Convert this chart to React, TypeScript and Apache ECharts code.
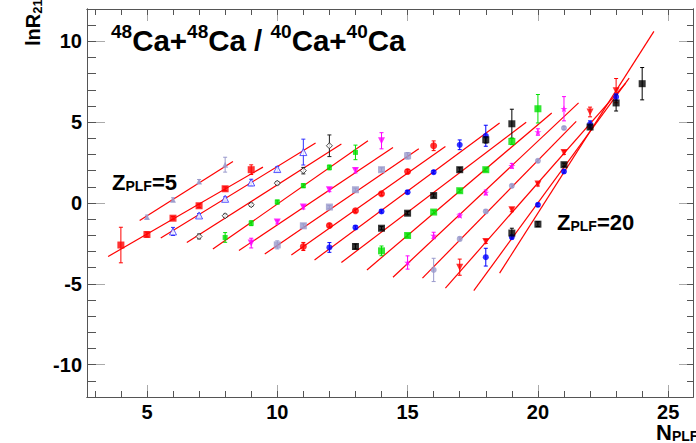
import React, { useEffect, useRef } from 'react';
import * as echarts from 'echarts';

// ---- axes ----
const X_MIN = 2.7;
const X_MAX = 25.95;
const Y_MIN = -12;
const Y_MAX = 12;
const X_MAJOR = [5, 10, 15, 20, 25];
const X_MINOR = [3, 4, 5, 6, 7, 8, 9, 10, 11, 12, 13, 14, 15, 16, 17, 18, 19, 20, 21, 22, 23, 24, 25];
const Y_MAJOR = [-10, -5, 0, 5, 10];
const Y_MINOR = [-12, -11, -10, -9, -8, -7, -6, -5, -4, -3, -2, -1, 0, 1, 2, 3, 4, 5, 6, 7, 8, 9, 10, 11, 12];

// ---- data: one isotope chain per Z_PLF ----
const Z_LIST = [5, 6, 7, 8, 9, 10, 11, 12, 13, 14, 15, 16, 17, 18, 19, 20];
const N_FIRST = [5, 4, 6, 7, 8, 9, 10, 11, 12, 13, 14, 15, 16, 17, 18, 19];

const LNR_Z5 = [-0.87, 0.2, 1.33, 2.37];
const LNR_Z6 = [-2.6, -1.95, -0.94, -0.17, 0.88, 2.06];
const LNR_Z7 = [-1.76, -0.77, 0.26, 1.27, 2.1, 3.15];
const LNR_Z8 = [-2.07, -0.79, -0.11, 1.23, 2.0, 3.54];
const LNR_Z9 = [-2.13, -1.25, 0.06, 1.07, 2.2, 3.13];
const LNR_Z10 = [-2.48, -1.18, -0.25, 0.82, 2.01, 3.85];
const LNR_Z11 = [-2.59, -1.41, -0.25, 0.82, 2.06, 2.92];
const LNR_Z12 = [-2.69, -1.39, -0.48, 0.57, 1.95, 3.54];
const LNR_Z13 = [-2.75, -1.51, -0.52, 0.67, 1.91, 3.6, 4.16];
const LNR_Z14 = [-2.69, -1.56, -0.63, 0.46, 2.06, 3.91, 4.9];
const LNR_Z15 = [-2.96, -2.01, -0.56, 0.76, 2.06, 3.81, 5.83];
const LNR_Z16 = [-3.68, -2.01, -0.77, 0.65, 2.3, 4.39, 5.83];
const LNR_Z17 = [-4.14, -2.22, -0.52, 1.06, 2.61, 4.64];
const LNR_Z18 = [-3.97, -2.38, -0.42, 1.17, 3.13, 5.63, 6.95];
const LNR_Z19 = [-3.35, -2.11, -0.11, 1.95, 4.88, 6.56];
const LNR_Z20 = [-1.86, -1.31, 2.37, 4.7, 6.19, 7.38];

const ERR_Z5 = [0.12, 0.12, 0.12, 0.46];
const ERR_Z6 = [1.1, 0.15, 0.1, 0.1, 0.12, 0.3];
const ERR_Z7 = [0.25, 0.12, 0.12, 0.2, 0.15, 0.8];
const ERR_Z8 = [0.15, 0.1, 0.1, 0.1, 0.2, 0.67];
const ERR_Z9 = [0.3, 0.15, 0.12, 0.12, 0.15, 0.45];
const ERR_Z10 = [0.3, 0.12, 0.12, 0.12, 0.15, 0.5];
const ERR_Z11 = [0.25, 0.12, 0.1, 0.1, 0.12, 0.2];
const ERR_Z12 = [0.25, 0.1, 0.1, 0.1, 0.12, 0.3];
const ERR_Z13 = [0.3, 0.1, 0.1, 0.1, 0.1, 0.3, 0.65];
const ERR_Z14 = [0.15, 0.1, 0.1, 0.1, 0.12, 0.2, 0.9];
const ERR_Z15 = [0.3, 0.1, 0.1, 0.1, 0.1, 0.2, 0.88];
const ERR_Z16 = [0.41, 0.2, 0.1, 0.15, 0.15, 0.2, 0.75];
const ERR_Z17 = [0.72, 0.12, 0.1, 0.1, 0.1, 0.1];
const ERR_Z18 = [0.5, 0.12, 0.12, 0.12, 0.12, 0.3, 0.75];
const ERR_Z19 = [0.55, 0.12, 0.1, 0.1, 0.2, 0.2];
const ERR_Z20 = [0.3, 0.15, 0.1, 0.12, 0.5, 1.0];

// fit line end points [N, lnR]
const FIT_Z5 = [[4.72, -1.08], [8.3, 2.57]];
const FIT_Z6 = [[3.51, -3.31], [9.45, 2.22]];
const FIT_Z7 = [[5.53, -2.17], [11.47, 3.71]];
const FIT_Z8 = [[6.53, -2.45], [12.46, 3.65]];
const FIT_Z9 = [[7.53, -2.85], [13.48, 3.85]];
const FIT_Z10 = [[8.53, -2.94], [14.44, 3.44]];
const FIT_Z11 = [[9.52, -3.15], [15.43, 3.35]];
const FIT_Z12 = [[10.54, -3.21], [16.45, 3.5]];
const FIT_Z13 = [[11.43, -3.52], [18.53, 4.95]];
const FIT_Z14 = [[12.46, -3.68], [19.55, 5.0]];
const FIT_Z15 = [[13.44, -4.14], [20.53, 5.57]];
const FIT_Z16 = [[14.44, -4.59], [21.56, 6.19]];
const FIT_Z17 = [[15.57, -4.65], [21.47, 5.05]];
const FIT_Z18 = [[16.45, -5.27], [23.37, 7.42]];
const FIT_Z19 = [[17.54, -5.42], [23.5, 7.73]];
const FIT_Z20 = [[18.53, -4.34], [24.45, 10.62]];

const LNR = [LNR_Z5, LNR_Z6, LNR_Z7, LNR_Z8, LNR_Z9, LNR_Z10, LNR_Z11, LNR_Z12, LNR_Z13, LNR_Z14, LNR_Z15, LNR_Z16, LNR_Z17, LNR_Z18, LNR_Z19, LNR_Z20];
const ERR = [ERR_Z5, ERR_Z6, ERR_Z7, ERR_Z8, ERR_Z9, ERR_Z10, ERR_Z11, ERR_Z12, ERR_Z13, ERR_Z14, ERR_Z15, ERR_Z16, ERR_Z17, ERR_Z18, ERR_Z19, ERR_Z20];
const FIT = [FIT_Z5, FIT_Z6, FIT_Z7, FIT_Z8, FIT_Z9, FIT_Z10, FIT_Z11, FIT_Z12, FIT_Z13, FIT_Z14, FIT_Z15, FIT_Z16, FIT_Z17, FIT_Z18, FIT_Z19, FIT_Z20];

// ---- styles ----
const FONT = '"Liberation Sans", Arial, Helvetica, sans-serif';
const GRAY = '#9a9acc';
const TRI_DOWN = 'path://M0,0L10,0L5,9Z';
const STAR = 'path://M5,0L6.2,3.8L10,3.8L7,6.2L8.1,10L5,7.7L1.9,10L3,6.2L0,3.8L3.8,3.8Z';
const MARKERS = [
  { color: GRAY, symbol: 'triangle', size: 6, hollow: false },
  { color: '#ff0000', symbol: 'rect', size: 7, hollow: false },
  { color: '#3030ff', symbol: 'triangle', size: 7, hollow: true },
  { color: '#202020', symbol: 'diamond', size: 6, hollow: true },
  { color: '#00e000', symbol: 'rect', size: 5, hollow: false },
  { color: '#ff00ff', symbol: TRI_DOWN, size: 7, hollow: false },
  { color: GRAY, symbol: 'rect', size: 7, hollow: false },
  { color: '#ff0000', symbol: 'circle', size: 7, hollow: false },
  { color: '#0000ff', symbol: 'circle', size: 6, hollow: false },
  { color: '#000000', symbol: 'rect', size: 7, hollow: false },
  { color: '#00e000', symbol: 'rect', size: 7, hollow: false },
  { color: '#ff00ff', symbol: STAR, size: 7, hollow: false },
  { color: GRAY, symbol: 'circle', size: 6, hollow: false },
  { color: '#ff0000', symbol: TRI_DOWN, size: 7, hollow: false },
  { color: '#0000ff', symbol: 'circle', size: 6, hollow: false },
  { color: '#000000', symbol: 'rect', size: 7, hollow: false },
];

function buildOption() {
  const lineSeries: any[] = [];
  const errSeries: any[] = [];
  const markSeries: any[] = [];
  Z_LIST.forEach((z, i) => {
    const pts = LNR[i].map((v, k) => [N_FIRST[i] + k, v, ERR[i][k]]);
    const m = MARKERS[i];
    lineSeries.push({
      name: 'fit Z=' + z,
      type: 'line',
      data: FIT[i],
      symbol: 'none',
      lineStyle: { color: '#ff0000', width: 1.2 },
      silent: true,
      z: 2,
    });
    errSeries.push({
      name: 'err Z=' + z,
      type: 'custom',
      data: pts,
      z: 3,
      silent: true,
      renderItem: (params: any, api: any) => {
        const x = api.value(0);
        const y = api.value(1);
        const e = api.value(2);
        const top = api.coord([x, y + e]);
        const bot = api.coord([x, y - e]);
        const cap = 2;
        const st = { stroke: m.color, lineWidth: 1 };
        return {
          type: 'group',
          children: [
            { type: 'line', shape: { x1: top[0], y1: top[1], x2: bot[0], y2: bot[1] }, style: st },
            { type: 'line', shape: { x1: top[0] - cap, y1: top[1], x2: top[0] + cap, y2: top[1] }, style: st },
            { type: 'line', shape: { x1: bot[0] - cap, y1: bot[1], x2: bot[0] + cap, y2: bot[1] }, style: st },
          ],
        };
      },
    });
    markSeries.push({
      name: 'Z=' + z,
      type: 'scatter',
      data: pts.map((p) => [p[0], p[1]]),
      symbol: m.symbol,
      symbolSize: m.size,
      z: 4,
      itemStyle: m.hollow
        ? { color: '#ffffff', borderColor: m.color, borderWidth: 1 }
        : { color: m.color },
    });
  });

  const axisLineStyle = { color: '#555555', width: 1 };
  const mkX = (pos: string, vals: number[], len: number, color: string, labels: boolean) => ({
    type: 'value',
    min: X_MIN,
    max: X_MAX,
    position: pos,
    axisLine: { show: true, onZero: false, lineStyle: axisLineStyle },
    axisTick: { show: true, inside: true, length: len, customValues: vals, lineStyle: { color, width: 1 } },
    axisLabel: labels
      ? { show: true, customValues: X_MAJOR, fontSize: 20, fontWeight: 'bold', color: '#000', fontFamily: FONT, margin: 5 }
      : { show: false },
    splitLine: { show: false },
  });
  const mkY = (pos: string, vals: number[], len: number, color: string, labels: boolean) => ({
    type: 'value',
    min: Y_MIN,
    max: Y_MAX,
    position: pos,
    axisLine: { show: true, onZero: false, lineStyle: axisLineStyle },
    axisTick: { show: true, inside: true, length: len, customValues: vals, lineStyle: { color, width: 1 } },
    axisLabel: labels
      ? { show: true, customValues: Y_MAJOR, fontSize: 20, fontWeight: 'bold', color: '#000', fontFamily: FONT, margin: 5 }
      : { show: false },
    splitLine: { show: false },
  });

  const sub = { fontSize: 14, fontWeight: 'bold', fontFamily: FONT, fill: '#000', verticalAlign: 'bottom', lineHeight: 14 };
  const big = { fontSize: 22, fontWeight: 'bold', fontFamily: FONT, fill: '#000', verticalAlign: 'top', lineHeight: 22 };

  return {
    animation: false,
    backgroundColor: '#ffffff',
    grid: { left: 87, right: 3, top: 9, bottom: 46, containLabel: false },
    xAxis: [
      mkX('bottom', X_MAJOR, 12, '#aaaaaa', true),
      mkX('bottom', X_MINOR, 6, '#555555', false),
      mkX('top', X_MAJOR, 12, '#aaaaaa', false),
      mkX('top', X_MINOR, 6, '#555555', false),
    ],
    yAxis: [
      mkY('left', Y_MAJOR, 18, '#aaaaaa', true),
      mkY('left', Y_MINOR, 9, '#555555', false),
      mkY('right', Y_MAJOR, 14, '#aaaaaa', false),
      mkY('right', Y_MINOR, 6, '#555555', false),
    ],
    title: {
      text: '{s|48}{m|Ca+}{s|48}{m|Ca / }{s|40}{m|Ca+}{s|40}{m|Ca}',
      left: 111,
      top: 22,
      padding: 0,
      textStyle: {
        rich: {
          s: { fontSize: 19, fontWeight: 'bold', fontFamily: FONT, color: '#000', verticalAlign: 'top', lineHeight: 19 },
          m: { fontSize: 29.5, fontWeight: 'bold', fontFamily: FONT, color: '#000', verticalAlign: 'bottom', lineHeight: 33 },
        },
      },
    },
    graphic: [
      {
        type: 'text',
        x: 33,
        y: 46,
        rotation: Math.PI / 2,
        style: {
          text: '{a|lnR}{b|21}',
          textAlign: 'left',
          textVerticalAlign: 'middle',
          rich: {
            a: { fontSize: 20, fontWeight: 'bold', fontFamily: FONT, fill: '#000', verticalAlign: 'middle', lineHeight: 22 },
            b: { fontSize: 13, fontWeight: 'bold', fontFamily: FONT, fill: '#000', verticalAlign: 'bottom', lineHeight: 14 },
          },
        },
      },
      {
        type: 'text',
        x: 656,
        y: 421,
        style: { text: '{a|N}{b|PLF}', rich: { a: { ...big, lineHeight: 22 }, b: sub } },
      },
      {
        type: 'text',
        x: 112,
        y: 171,
        style: { text: '{a|Z}{b|PLF}{a|=5}', rich: { a: big, b: sub } },
      },
      {
        type: 'text',
        x: 557,
        y: 211,
        style: { text: '{a|Z}{b|PLF}{a|=20}', rich: { a: big, b: sub } },
      },
    ],
    series: [...lineSeries, ...errSeries, ...markSeries],
  };
}

export default function App() {
  const ref = useRef<HTMLDivElement>(null);
  useEffect(() => {
    if (!ref.current) return;
    const chart = echarts.init(ref.current, undefined, { renderer: 'svg' });
    chart.setOption(buildOption() as any);
    return () => chart.dispose();
  }, []);
  return (
    <div
      ref={ref}
      style={{ position: 'fixed', left: 0, top: 0, width: 696, height: 443, background: '#fff' }}
    />
  );
}
